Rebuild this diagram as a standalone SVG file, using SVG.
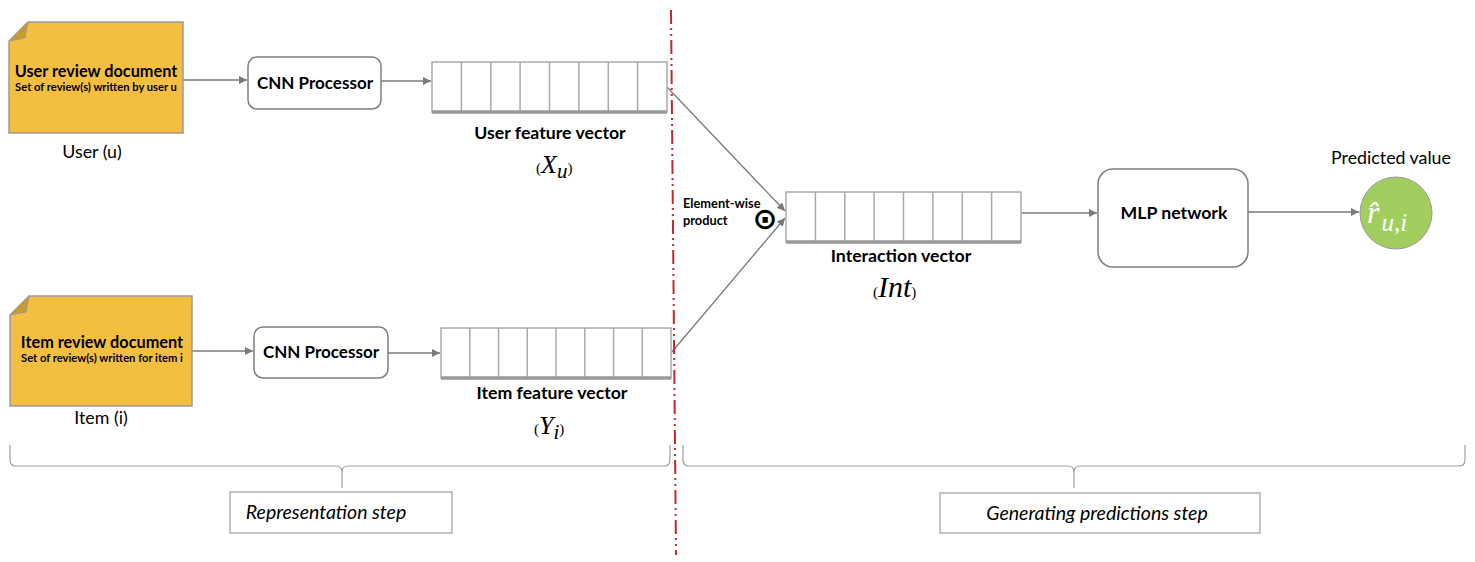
<svg xmlns="http://www.w3.org/2000/svg" width="1475" height="562" viewBox="0 0 1475 562">
  <defs>
    <marker id="arrow" viewBox="0 0 10 10" refX="10" refY="5" markerWidth="8" markerHeight="8" markerUnits="userSpaceOnUse" orient="auto">
      <path d="M0,0 L10,5 L0,10 Z" fill="#7a7a7a"/>
    </marker>
    <!-- eight-cell feature vector, origin at top-left, 235 x 50 -->
    <g id="vec">
      <rect x="0" y="0" width="235" height="50" fill="#fff" stroke="#aaa" stroke-width="1.5"/>
      <path d="M29.4,0 V50 M58.8,0 V50 M88.1,0 V50 M117.5,0 V50 M146.9,0 V50 M176.3,0 V50 M205.6,0 V50" stroke="#aaa" stroke-width="1.5"/>
      <line x1="0" y1="50" x2="235" y2="50" stroke="#999" stroke-width="3.5"/>
    </g>
  </defs>
  <style>
    text { font-family: Lato, "Open Sans", "Liberation Sans", sans-serif; fill: #000; }
    .doc { fill: #f4bf41; stroke: #9a9a9a; stroke-width: 1.5; }
    .fold { fill: #c99a2e; stroke: #9a9a9a; stroke-width: 1; }
    .proc { fill: #fff; stroke: #7f7f7f; stroke-width: 1.5; }
    .title { font-weight: 700; font-size: 17.7px; text-anchor: middle; }
    .doct { font-weight: 700; font-size: 16.3px; text-anchor: middle; }
    .cnn { font-weight: 700; font-size: 17px; text-anchor: middle; }
    .sub { font-weight: 700; font-size: 11.2px; text-anchor: middle; }
    .cap { font-size: 17.8px; text-anchor: middle; }
    .math { font-family: "Liberation Serif", "DejaVu Serif", serif; font-style: italic; }
    .paren { font-family: "Liberation Serif", serif; font-size: 15px; }
    .conn { stroke: #7a7a7a; stroke-width: 1.3; fill: none; marker-end: url(#arrow); }
    .brace { stroke: #a0a0a0; stroke-width: 1.2; fill: none; }
    .step { fill: #fff; stroke: #8a8a8a; stroke-width: 1; }
    .steptxt { font-style: italic; font-size: 19.5px; text-anchor: middle; }
  </style>

  <!-- connectors -->
  <g id="connectors">
    <line class="conn" x1="183" y1="80" x2="247" y2="80"/>
    <line class="conn" x1="381" y1="81" x2="431" y2="81"/>
    <line class="conn" x1="192" y1="351" x2="253" y2="351"/>
    <line class="conn" x1="388" y1="353" x2="440" y2="353"/>
    <line class="conn" x1="667" y1="87" x2="785" y2="211"/>
    <line class="conn" x1="671" y1="353" x2="785" y2="218"/>
    <line class="conn" x1="1016" y1="213" x2="1097" y2="213"/>
    <line class="conn" x1="1248" y1="212" x2="1359" y2="212"/>
  </g>

  <!-- separator between the two stages -->
  <line id="separator" x1="671" y1="10" x2="676" y2="555" stroke="#c4282d" stroke-width="2" stroke-dasharray="14 4 2 4 2 4"/>

  <g id="user-doc">
    <path class="doc" d="M28,22 H183 V133 H9 V41 Z"/>
    <path class="fold" d="M9,41 L28,22 L25,38 Z"/>
    <text class="doct" x="96" y="77">User review document</text>
    <text class="sub" x="96" y="91">Set of review(s) written by user u</text>
    <text class="cap" x="92" y="158">User (u)</text>
  </g>

  <g id="item-doc">
    <path class="doc" d="M29,296 H192 V406 H10 V315 Z"/>
    <path class="fold" d="M10,315 L29,296 L26,312 Z"/>
    <text class="doct" x="102" y="348">Item review document</text>
    <text class="sub" x="102" y="362">Set of review(s) written for item i</text>
    <text class="cap" x="101" y="424">Item (i)</text>
  </g>

  <g id="user-cnn">
    <rect class="proc" x="248" y="57" width="133" height="52" rx="9"/>
    <text class="cnn" x="315" y="89">CNN Processor</text>
  </g>

  <g id="item-cnn">
    <rect class="proc" x="254" y="327" width="134" height="51" rx="9"/>
    <text class="cnn" x="321" y="358">CNN Processor</text>
  </g>

  <g id="user-vector">
    <use href="#vec" x="432" y="62"/>
    <text class="title" x="550" y="139">User feature vector</text>
    <text x="536" y="173"><tspan class="paren">(</tspan><tspan class="math" font-size="26">X</tspan><tspan class="math" font-size="21" dy="5">u</tspan><tspan class="paren" dy="-5">)</tspan></text>
  </g>

  <g id="item-vector">
    <use href="#vec" x="441" y="328" transform="translate(441 328) scale(0.979 1) translate(-441 -328)"/>
    <text class="title" x="552" y="399">Item feature vector</text>
    <text x="534" y="434"><tspan class="paren">(</tspan><tspan class="math" font-size="26">Y</tspan><tspan class="math" font-size="21" dy="5">i</tspan><tspan class="paren" dy="-5">)</tspan></text>
  </g>

  <g id="product">
    <text x="683" y="208" font-size="12.8" font-weight="700">Element-wise</text>
    <text x="683" y="225" font-size="12.8" font-weight="700">product</text>
    <text x="765" y="229" font-size="30" font-weight="700" text-anchor="middle" style="font-family: 'DejaVu Sans', sans-serif">⊙</text>
  </g>

  <g id="interaction-vector">
    <use href="#vec" x="786" y="192"/>
    <text class="title" x="901" y="262">Interaction vector</text>
    <text x="873" y="297"><tspan class="paren">(</tspan><tspan class="math" font-size="30">Int</tspan><tspan class="paren">)</tspan></text>
  </g>

  <g id="mlp">
    <rect class="proc" x="1098" y="169" width="150" height="98" rx="15"/>
    <text class="title" x="1174" y="219">MLP network</text>
  </g>

  <g id="prediction">
    <text class="cap" x="1391" y="164">Predicted value</text>
    <circle cx="1396" cy="213" r="36" fill="#a2cd5f" stroke="#9a9a9a" stroke-width="1"/>
    <text x="1367" y="223" style="fill:#fff"><tspan class="math" font-size="32" style="fill:#fff">r̂</tspan><tspan class="math" font-size="25" dx="2" dy="8" style="fill:#fff">u,i</tspan></text>
  </g>

  <g id="representation-step">
    <path class="brace" d="M10,445 V460 Q10,466 16,466 H336 Q342,466 342,472 V488 M342,472 Q342,466 348,466 H664 Q670,466 670,460 V445"/>
    <rect class="step" x="230" y="492" width="222" height="41"/>
    <text class="steptxt" x="326" y="519">Representation step</text>
  </g>

  <g id="prediction-step">
    <path class="brace" d="M683,445 V460 Q683,466 689,466 H1068 Q1074,466 1074,472 V488 M1074,472 Q1074,466 1080,466 H1459 Q1465,466 1465,460 V445"/>
    <rect class="step" x="940" y="493" width="320" height="40"/>
    <text class="steptxt" x="1097" y="520">Generating predictions step</text>
  </g>
</svg>
